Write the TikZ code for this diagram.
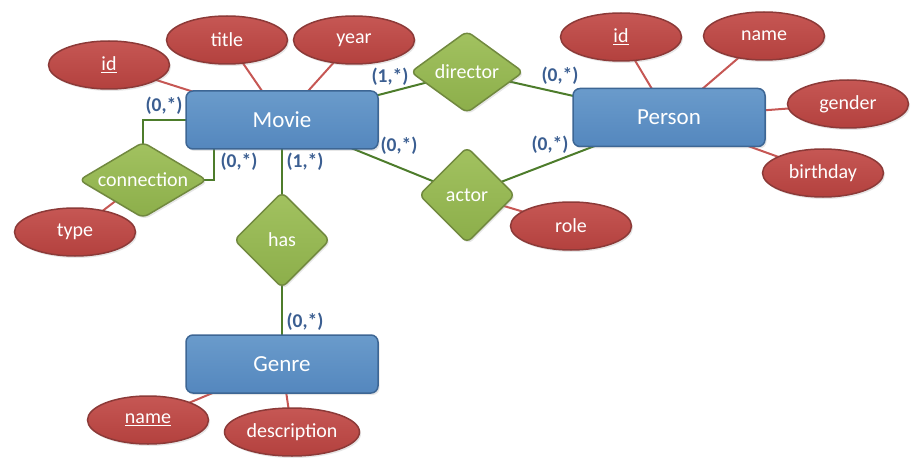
\documentclass[tikz,border=0pt]{standalone}
\usepackage{fontspec}
\setmainfont{Carlito}
\usetikzlibrary{shapes.geometric,shadows,backgrounds}

\definecolor{entfill}{HTML}{6A9BCB}
\definecolor{entfilldark}{HTML}{5487BE}
\definecolor{entline}{HTML}{3D6694}
\definecolor{attfill}{HTML}{C65754}
\definecolor{attfilldark}{HTML}{B3413E}
\definecolor{attline}{HTML}{8C3A38}
\definecolor{relfill}{HTML}{A2C260}
\definecolor{relfilldark}{HTML}{8CAE4A}
\definecolor{relline}{HTML}{71893F}
\definecolor{cardcol}{HTML}{3B5E91}

\tikzset{
	softshadow/.style={drop shadow={opacity=0.2, shadow xshift=1.5pt, shadow yshift=-2pt}},
	entity/.style={rectangle, rounded corners=7pt, draw=entline, line width=1.5pt,
		top color=entfill, bottom color=entfilldark, text=white, softshadow,
		minimum width=192pt, minimum height=58pt, inner sep=0pt,
		font=\fontsize{23}{28}\selectfont},
	attrib/.style={ellipse, draw=attline, line width=1.5pt,
		top color=attfill, bottom color=attfilldark, text=white, softshadow,
		minimum width=121pt, minimum height=48pt, inner sep=0pt,
		font=\fontsize{20}{24}\selectfont},
	relation/.style={diamond, rounded corners=6pt, draw=relline, line width=1.5pt,
		top color=relfill, bottom color=relfilldark, text=white, softshadow,
		inner sep=0pt, shape aspect=1, minimum width=96pt, minimum height=96pt,
		font=\fontsize{20}{24}\selectfont},
	card/.style={text=cardcol, inner sep=0pt, font=\bfseries\fontsize{19.5}{24}\selectfont},
	attline/.style={draw=attfill, line width=2pt},
	relline/.style={draw=relline!85!green!80!black, line width=2pt},
}

\begin{document}
\begin{tikzpicture}[x=1pt, y=-1pt]
	\useasboundingbox (0,0) rectangle (918,468);

	% entities
	\node[entity] (movie) at (282,120) {Movie};
	\node[entity] (person) at (669,117.5) {Person};
	\node[entity] (genre) at (282,364) {Genre};

	% relationships
	\node[relation, shape aspect=1.8, minimum width=128pt, minimum height=76pt] (connection) at (143,180) {connection};
	\node[relation, shape aspect=1.4, minimum width=113pt, minimum height=82pt] (director) at (467,72) {director};
	\node[relation] (actor) at (467,195) {actor};
	\node[relation] (has) at (282,240) {has};

	% attributes
	\node[attrib] (movieid) at (109,65) {\underline{id}};
	\node[attrib] (title) at (227,40) {title};
	\node[attrib] (year) at (354,40) {year};
	\node[attrib] (type) at (75,232) {type};
	\node[attrib] (personid) at (621,37) {\underline{id}};
	\node[attrib] (personname) at (764,36) {name};
	\node[attrib] (gender) at (848,104) {gender};
	\node[attrib] (birthday) at (823,173) {birthday};
	\node[attrib] (role) at (571,226) {role};
	\node[attrib] (genrename) at (148,420) {\underline{name}};
	\node[attrib, minimum width=135pt] (description) at (292,432) {description};

	% connectors
	\begin{scope}[on background layer]
		\foreach \a/\b in {movieid/movie, title/movie, year/movie, type/connection,
			personid/person, personname/person, gender/person, birthday/person,
			role/actor, genrename/genre, description/genre}
		{
			\draw[attline] (\a.center) -- (\b.center);
		}
		\foreach \a/\b in {movie/director, director/person, movie/actor, actor/person, movie/has, has/genre}
		{
			\draw[relline] (\a.center) -- (\b.center);
		}
		\draw[relline] (movie.center) -| (connection.center);
		\draw[relline] (connection.center) -| ([xshift=-68pt]movie.center);
	\end{scope}

	% cardinalities
	\node[card] (c1) at (164,106) {(0,*)};
	\node[card] (c2) at (239,162) {(0,*)};
	\node[card] (c3) at (305,162) {(1,*)};
	\node[card] (c4) at (390,77) {(1,*)};
	\node[card] (c5) at (399,146) {(0,*)};
	\node[card] (c6) at (560,76) {(0,*)};
	\node[card] (c7) at (550,145) {(0,*)};
	\node[card] (c8) at (305,322) {(0,*)};
\end{tikzpicture}
\end{document}
